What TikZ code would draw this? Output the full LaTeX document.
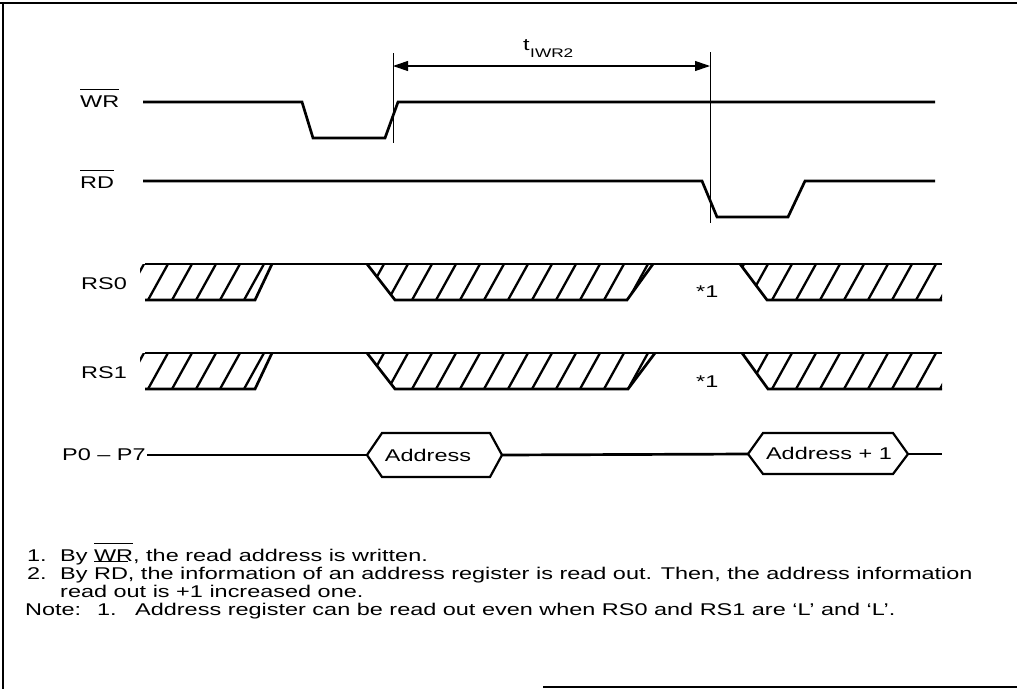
\documentclass[tikz,border=0pt]{standalone}
\usepackage{fontspec}
\setmainfont{Liberation Sans}[FakeStretch=1.38]
\usetikzlibrary{arrows.meta}
\newcommand\ovl[1]{\leavevmode\vbox{\hrule height 1.3pt\kern 5pt\hbox{#1}}}
\newcommand\hatchreg[2]{%
  \begin{scope}
    \clip #1;
    \foreach \k in {-2,...,36} \draw[hatchline] ({148+24*\k-2.2},#2+4) -- ++(24.4,-44);
  \end{scope}}
\begin{document}
\begin{tikzpicture}[x=1pt,y=-1pt,
  sig/.style={line width=2.7pt, line join=miter, line cap=butt},
  hatchline/.style={line width=2.3pt},
  refline/.style={line width=1pt},
  dimline/.style={line width=1.1pt, {Triangle[length=15pt,width=10pt]}-{Triangle[length=15pt,width=10pt]}},
  hexbox/.style={line width=2.2pt, line join=miter},
  frameline/.style={line width=2pt},
  lbl/.style={inner sep=0pt, anchor=base west, font=\fontsize{17}{18}\selectfont},
  note/.style={inner sep=0pt, anchor=base west, font=\fontsize{17}{18}\selectfont},
  small/.style={inner sep=0pt, anchor=base west, font=\fontsize{12.5}{14}\selectfont}]
\useasboundingbox (0,0) rectangle (1017,689);
% frame
\draw[frameline] (0,3) -- (1017,3);
\draw[frameline] (3,3) -- (3,689);
\draw[frameline] (543,687) -- (1017,687);

% labels
\node[lbl] (lwr) at (80,107) {\ovl{WR}};
\node[lbl] (lrd) at (80,188) {\ovl{RD}};
\node[lbl] (lrs0) at (81,289) {RS0};
\node[lbl] (lrs1) at (81,378) {RS1};
\node[lbl] (lp) at (62,460) {P0 – P7};

% WR
\draw[sig] (143,102) -- (302,102) -- (313,138) -- (385,138) -- (398,102) -- (935,102);
% RD
\draw[sig] (143,181) -- (702,181) -- (717,217) -- (788,217) -- (805,181) -- (935,181);

% reference lines and dimension
\coordinate (v1t) at (393,53);
\coordinate (v1b) at (393,143);
\coordinate (v2t) at (710,52);
\coordinate (v2b) at (710,223);
\draw[refline] (v1t) -- (v1b);
\draw[refline] (v2t) -- (v2b);
\coordinate (a1) at (393,66);
\coordinate (a2) at (710,66);
\draw[dimline] (a1) -- (a2);
\node[lbl] (tl) at (523,50) {t};
\node[small] (tsub) at (530,57) {IWR2};

% RS0
\def\yt{264}\def\yb{300}
\hatchreg{(140,\yt) -- (272,\yt) -- (255,\yb) -- (140,\yb) -- cycle}{\yb}
\hatchreg{(367,\yt) -- (653,\yt) -- (627,\yb) -- (395,\yb) -- cycle}{\yb}
\hatchreg{(740,\yt) -- (942,\yt) -- (942,\yb) -- (767,\yb) -- cycle}{\yb}
\draw[sig] (145,\yt) -- (942,\yt);
\draw[sig] (145,\yb) -- (255,\yb) -- (272,\yt);
\draw[sig] (367,\yt) -- (395,\yb) -- (627,\yb) -- (653,\yt);
\draw[sig] (740,\yt) -- (767,\yb) -- (942,\yb);
\node[lbl] (s0) at (696,297) {*1};

% RS1
\def\yt{353}\def\yb{389}
\hatchreg{(140,\yt) -- (272,\yt) -- (255,\yb) -- (140,\yb) -- cycle}{\yb}
\hatchreg{(367,\yt) -- (655,\yt) -- (628,\yb) -- (395,\yb) -- cycle}{\yb}
\hatchreg{(742,\yt) -- (942,\yt) -- (942,\yb) -- (768,\yb) -- cycle}{\yb}
\draw[sig] (145,\yt) -- (942,\yt);
\draw[sig] (145,\yb) -- (255,\yb) -- (272,\yt);
\draw[sig] (367,\yt) -- (395,\yb) -- (628,\yb) -- (655,\yt);
\draw[sig] (742,\yt) -- (768,\yb) -- (942,\yb);
\node[lbl] (s1) at (696,387) {*1};

% P bus
\draw[sig] (147,455) -- (367,455);
\draw[hexbox] (367,455) -- (382,433) -- (490,433) -- (502,455) -- (490,477) -- (382,477) -- cycle;
\node[inner sep=0pt, font=\fontsize{17}{18}\selectfont] (ad1) at (428,455) {Address};
\draw[sig] (502,455) -- (748,454);
\draw[hexbox] (748,454) -- (763,433) -- (893,433) -- (908,454) -- (893,474) -- (763,474) -- cycle;
\node[inner sep=0pt, font=\fontsize{17}{18}\selectfont] (ad2) at (829,453) {Address + 1};
\draw[sig] (908,454) -- (942,454);

% notes
\node[note] (n1a) at (27,561) {1.};
\node[note] (n1b) at (60,561) {By \ovl{WR}, the read address is written.};
\node[note] (n2a) at (27,579) {2.};
\node[note] (n2b) at (60,579) {By \ovl{RD}, the information of an address register is read out. Then, the address information};
\node[note] (n3b) at (60,597) {read out is +1 increased one.};
\node[note] (n4a) at (25,615) {Note:};
\node[note] (n4b) at (97,615) {1.};
\node[note] (n4c) at (135,615) {Address register can be read out even when RS0 and RS1 are ‘L’ and ‘L’.};
\end{tikzpicture}
\end{document}
